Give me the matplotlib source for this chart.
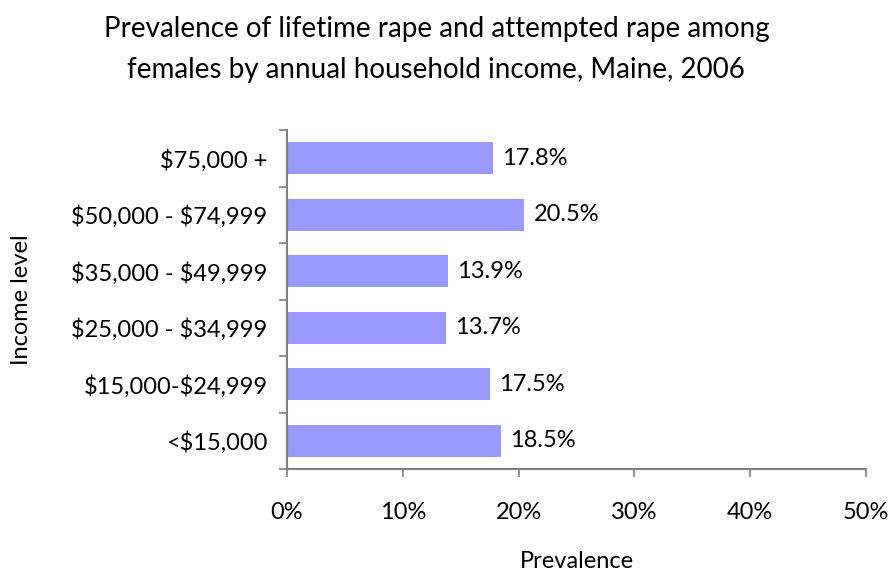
import matplotlib
matplotlib.use('Agg')
import matplotlib.pyplot as plt
from matplotlib.ticker import FuncFormatter

plt.rcParams['font.family'] = ['Lato', 'DejaVu Sans']

# income groups, bottom to top
incomes = ['<$15,000', '$15,000-$24,999', '$25,000 - $34,999',
           '$35,000 - $49,999', '$50,000 - $74,999', '$75,000 +']
prevalence = [18.5, 17.5, 13.7, 13.9, 20.5, 17.8]

fig = plt.figure(figsize=(8.96, 5.71), dpi=100)
ax = fig.add_axes([0.3203, 0.1786, 0.6462, 0.5937])

ypos = range(len(incomes))
ax.barh(ypos, prevalence, height=0.56, color='#9999FF', zorder=2)
for y, v in zip(ypos, prevalence):
    ax.text(v + 0.8, y, f'{v:.1f}%', va='center', ha='left', fontsize=17)

ax.set_xlim(0, 50)
ax.set_ylim(-0.5, len(incomes) - 0.5)
ax.set_xticks(range(0, 51, 10))
ax.xaxis.set_major_formatter(FuncFormatter(lambda x, p: f'{x:.0f}%'))
ax.set_yticks(ypos)
# escape the dollar signs so they are not read as mathtext
ax.set_yticklabels([s.replace('$', r'\$') for s in incomes])
# ticks sit on category boundaries, labels in between
ax.set_yticks([i - 0.5 for i in range(len(incomes) + 1)], minor=True)
ax.tick_params(axis='y', which='major', length=0, pad=14, labelsize=17)
ax.tick_params(axis='y', which='minor', length=6, color='#808080', width=1.2)
ax.tick_params(axis='x', length=6, color='#808080', width=1.2, pad=18,
               labelsize=17)

for s in ['top', 'right']:
    ax.spines[s].set_visible(False)
for s in ['left', 'bottom']:
    ax.spines[s].set_color('#808080')
    ax.spines[s].set_linewidth(1.5)

ax.set_xlabel('Prevalence', fontsize=17, va='center')
ax.xaxis.set_label_coords(0.5, -0.272)
ax.set_ylabel('Income level', fontsize=17, va='center')
ax.yaxis.set_label_coords(-0.458, 0.5)
fig.text(0.487, 0.972, 'Prevalence of lifetime rape and attempted rape among\n'
         'females by annual household income, Maine, 2006',
         ha='center', va='top', fontsize=20, linespacing=1.7)

fig.savefig('out.png', dpi=100)
